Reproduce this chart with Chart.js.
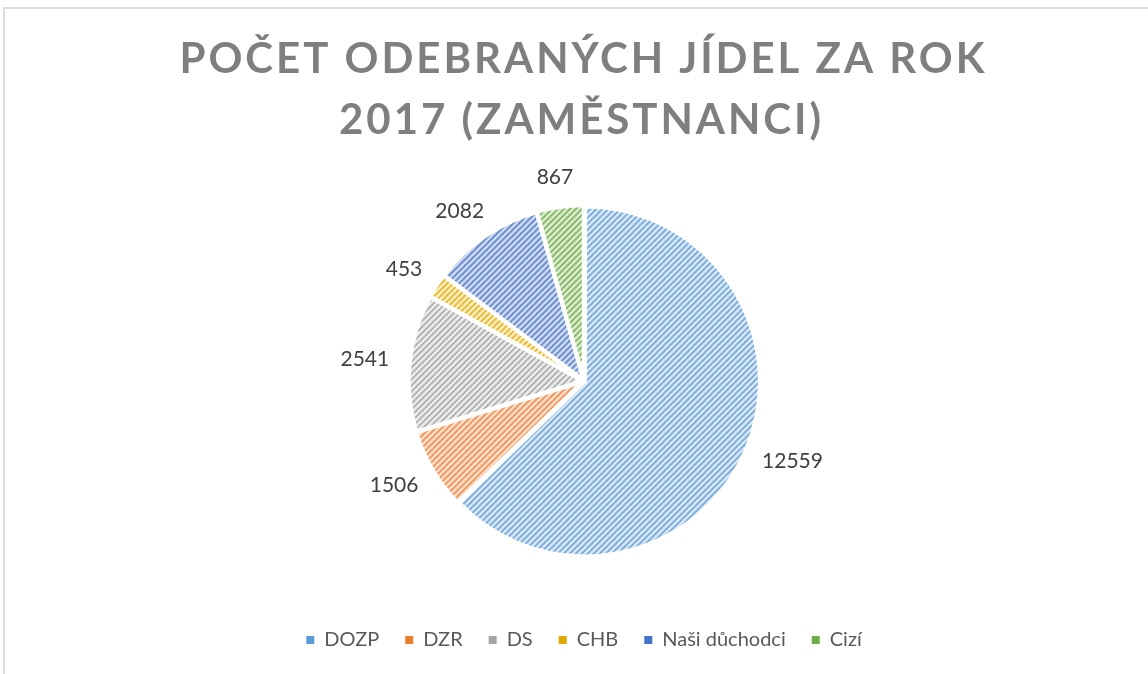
<!DOCTYPE html>
<html>
<head>
<meta charset="utf-8">
<title>Počet odebraných jídel za rok 2017</title>
<script src="https://cdn.jsdelivr.net/npm/chart.js@4.4.1/dist/chart.umd.min.js"></script>
<style>
    html, body { margin: 0; padding: 0; background: #fff; overflow: hidden; }
    #frame {
        position: absolute; left: 3px; top: 7px; width: 1200px; height: 700px;
        border-left: 2px solid #dcdcdc; border-top: 2px solid #dcdcdc;
    }
    #wrap { position: absolute; left: 0; top: 0; width: 1148px; height: 674px; }
</style>
</head>
<body>
<div id="frame"></div>
<div id="wrap"><canvas id="mealsChart" width="1148" height="674"></canvas></div>
<script>
// ========================================
// Data
// ========================================
const categories = ['DOZP', 'DZR', 'DS', 'CHB', 'Naši důchodci', 'Cizí'];
const meals = [12559, 1506, 2541, 453, 2082, 867];
const titleLines = ['POČET ODEBRANÝCH JÍDEL ZA ROK', '2017 (ZAMĚSTNANCI)'];

// Office palette + light tints used under the hatch lines
const lineColors = ['#5b9bd5', '#ed7d31', '#a5a5a5', '#e0a800', '#4472c4', '#70ad47'];
const tintColors = ['#dce8f5', '#fbe2d2', '#ebebeb', '#fdf0c8', '#d3ddf1', '#dcebd2'];

// Diagonal hatch pattern ("/" lines on a pale tint)
function makeHatch(line, tint) {
    const size = 6;
    const c = document.createElement('canvas');
    c.width = size; c.height = size;
    const g = c.getContext('2d');
    g.fillStyle = tint;
    g.fillRect(0, 0, size, size);
    g.strokeStyle = line;
    g.lineWidth = 1.5;
    [-size, 0, size].forEach(off => {
        g.beginPath();
        g.moveTo(off - 1, size + 1);
        g.lineTo(off + size + 1, -1);
        g.stroke();
    });
    return g.createPattern(c, 'repeat');
}

// Spaced, two-line title
const spacedTitle = {
    id: 'spacedTitle',
    afterDraw(chart) {
        const ctx = chart.ctx;
        ctx.save();
        ctx.font = 'bold 42px Lato';
        ctx.fillStyle = '#7f7f7f';
        ctx.textAlign = 'center';
        ctx.textBaseline = 'middle';
        ctx.letterSpacing = '0px';
        const w0 = ctx.measureText(titleLines[0]).width;
        const spacing = Math.max(0, (805 - w0) / (titleLines[0].length - 1));
        ctx.letterSpacing = spacing + 'px';
        ctx.fillText(titleLines[0], 582 + spacing / 2, 59);
        ctx.fillText(titleLines[1], 580 + spacing / 2, 120);
        ctx.restore();
    }
};

// Value labels outside the slices
const outsideLabels = {
    id: 'outsideLabels',
    afterDatasetsDraw(chart) {
        const ctx = chart.ctx;
        const meta = chart.getDatasetMeta(0);
        ctx.save();
        ctx.font = '21px Lato';
        ctx.fillStyle = '#404040';
        ctx.textAlign = 'center';
        ctx.textBaseline = 'middle';
        meta.data.forEach((arc, i) => {
            const p = arc.getProps(['x', 'y', 'startAngle', 'endAngle', 'outerRadius'], true);
            const mid = (p.startAngle + p.endAngle) / 2;
            const dx = Math.cos(mid), dy = Math.sin(mid);
            const txt = String(meals[i]);
            const w = ctx.measureText(txt).width;
            const r = p.outerRadius + 22;
            ctx.fillText(txt, p.x + dx * r + dx * w / 2, p.y + dy * r + dy * 10);
        });
        ctx.restore();
    }
};

function initMealsChart() {
    const ctx = document.getElementById('mealsChart').getContext('2d');
    new Chart(ctx, {
        type: 'pie',
        data: {
            labels: categories,
            datasets: [{
                data: meals,
                backgroundColor: lineColors.map((c, i) => makeHatch(c, tintColors[i])),
                borderColor: '#ffffff',
                borderWidth: 4,
                offset: 4,
                radius: 174
            }]
        },
        options: {
            responsive: false,
            animation: false,
            layout: { padding: { top: 158, bottom: 14, left: 20, right: 0 } },
            plugins: {
                tooltip: { enabled: false },
                legend: {
                    position: 'bottom',
                    labels: {
                        boxWidth: 8,
                        boxHeight: 8,
                        padding: 26,
                        color: '#595959',
                        font: { family: 'Lato', size: 20 },
                        generateLabels(chart) {
                            const items = Chart.overrides.pie.plugins.legend.labels.generateLabels(chart);
                            items.forEach((it, i) => {
                                it.fillStyle = lineColors[i];
                                it.strokeStyle = lineColors[i];
                                it.lineWidth = 0;
                            });
                            return items;
                        }
                    }
                }
            }
        },
        plugins: [spacedTitle, outsideLabels]
    });
}

document.addEventListener('DOMContentLoaded', initMealsChart);
</script>
</body>
</html>
